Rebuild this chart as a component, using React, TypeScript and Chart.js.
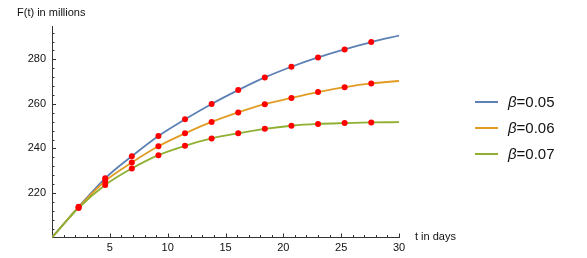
import React, { useEffect, useRef } from "react";
import { Chart, registerables } from "chart.js";
Chart.register(...registerables);

// t in days
const tDays = [0, 2.3, 4.6, 6.9, 9.2, 11.5, 13.8, 16.1, 18.4, 20.7, 23.0, 25.3, 27.6, 30];
// F(t) in millions
const beta05 = [200, 213.8, 226.6, 236.5, 245.6, 253.1, 260.0, 266.2, 271.9, 276.7, 280.9, 284.5, 287.8, 290.7];
const beta06 = [200, 213.6, 225.4, 233.7, 241.0, 246.8, 251.9, 256.2, 259.9, 262.7, 265.3, 267.5, 269.2, 270.3];
const beta07 = [200, 213.3, 223.6, 231.0, 237.0, 241.2, 244.5, 246.8, 248.8, 250.2, 251.0, 251.4, 251.7, 251.8];
const betaLabels = ["0.05", "0.06", "0.07"];
const xMajorTicks = [5, 10, 15, 20, 25, 30];
const yMajorTicks = [220, 240, 260, 280];

const COLORS = ["#5E81B5", "#E19C24", "#8FB032"];
const FONT = "'Liberation Sans', Arial, sans-serif";

export default function App() {
  const ref = useRef<HTMLCanvasElement>(null);

  useEffect(() => {
    if (!ref.current) return;
    const series = [beta05, beta06, beta07];
    const lineSets = series.map((s, i) => ({
      type: "line" as const,
      label: "β=" + betaLabels[i],
      data: tDays.map((t, j) => ({ x: t, y: s[j] })),
      borderColor: COLORS[i],
      backgroundColor: COLORS[i],
      borderWidth: 1.8,
      pointRadius: 0,
      cubicInterpolationMode: "monotone" as const,
      fill: false,
      order: 3 - i,
    }));
    const pointSets = series.map((s, i) => ({
      type: "scatter" as const,
      label: "pts" + i,
      data: tDays.slice(1, 13).map((t, j) => ({ x: t, y: s[j + 1] })),
      backgroundColor: "#FF0000",
      borderWidth: 0,
      pointRadius: 3,
      showLine: false,
      order: 0,
    }));

    const tickPlugin = {
      id: "inwardTicks",
      afterDraw(chart: any) {
        const ctx = chart.ctx;
        const xs = chart.scales.x;
        const ys = chart.scales.y;
        const y0 = ys.getPixelForValue(200);
        const x0 = xs.getPixelForValue(0);
        ctx.save();
        ctx.strokeStyle = "#333";
        ctx.lineWidth = 1;
        ctx.beginPath();
        xs.ticks.forEach((t: any) => {
          if (t.value === 0) return;
          const px = Math.round(xs.getPixelForValue(t.value)) + 0.5;
          const len = xMajorTicks.includes(t.value) ? 4 : 2.5;
          ctx.moveTo(px, y0);
          ctx.lineTo(px, y0 - len);
        });
        ys.ticks.forEach((t: any) => {
          if (t.value === 200) return;
          const py = Math.round(ys.getPixelForValue(t.value)) + 0.5;
          const len = yMajorTicks.includes(t.value) ? 4 : 2.5;
          ctx.moveTo(x0, py);
          ctx.lineTo(x0 + len, py);
        });
        ctx.stroke();
        ctx.restore();
      },
    };

    const chart = new Chart(ref.current, {
      type: "line",
      data: { datasets: [...lineSets, ...pointSets] as any },
      options: {
        animation: false,
        responsive: false,
        devicePixelRatio: 1,
        layout: { padding: { left: 0, top: 26, right: 188, bottom: 0 } },
        plugins: { legend: { display: false }, tooltip: { enabled: false } },
        scales: {
          x: {
            type: "linear",
            min: 0,
            max: 30,
            afterBuildTicks: (scale: any) => {
              const arr = [];
              for (let v = 0; v <= 30; v++) arr.push({ value: v });
              scale.ticks = arr;
            },
            afterFit: (scale: any) => {
              scale.height = 20.5;
            },
            grid: { display: false, drawTicks: false },
            border: { display: true, color: "#333", width: 1 },
            ticks: {
              autoSkip: false,
              maxRotation: 0,
              padding: 4,
              color: "#111",
              font: { family: FONT, size: 11 },
              callback: (v: any) => (xMajorTicks.includes(Number(v)) ? String(v) : ""),
            },
          },
          y: {
            type: "linear",
            min: 200,
            max: 295,
            afterBuildTicks: (scale: any) => {
              const arr = [];
              for (let v = 200; v <= 292; v += 4) arr.push({ value: v });
              scale.ticks = arr;
            },
            afterFit: (scale: any) => {
              scale.width = 52;
            },
            grid: { display: false, drawTicks: false },
            border: { display: true, color: "#333", width: 1 },
            ticks: {
              autoSkip: false,
              padding: 6,
              color: "#111",
              font: { family: FONT, size: 11 },
              callback: (v: any) => (yMajorTicks.includes(Number(v)) ? String(v) : ""),
            },
          },
        },
      },
      plugins: [tickPlugin],
    } as any);
    return () => chart.destroy();
  }, []);

  const legendTops = [101.5, 127.5, 153.5];

  return (
    <div style={{ position: "fixed", left: 0, top: 0, width: 587, height: 258, background: "#fff", fontFamily: FONT }}>
      <canvas ref={ref} width={587} height={258} style={{ position: "absolute", left: 0, top: 0 }} />
      <div style={{ position: "absolute", left: 17, top: 5.5, fontSize: 11, color: "#111", whiteSpace: "nowrap", lineHeight: "13px" }}>
        F(t) in millions
      </div>
      <div style={{ position: "absolute", left: 415, top: 230, fontSize: 11, color: "#111", whiteSpace: "nowrap", lineHeight: "13px" }}>
        t in days
      </div>
      {betaLabels.map((b, i) => (
        <div key={b} style={{ position: "absolute", left: 475, top: legendTops[i] - 10, height: 20, display: "flex", alignItems: "center" }}>
          <div style={{ width: 23, height: 2, background: COLORS[i] }} />
          <div style={{ marginLeft: 10, fontSize: 15, color: "#111", whiteSpace: "nowrap", lineHeight: "20px" }}>
            <i>β</i>={b}
          </div>
        </div>
      ))}
    </div>
  );
}
